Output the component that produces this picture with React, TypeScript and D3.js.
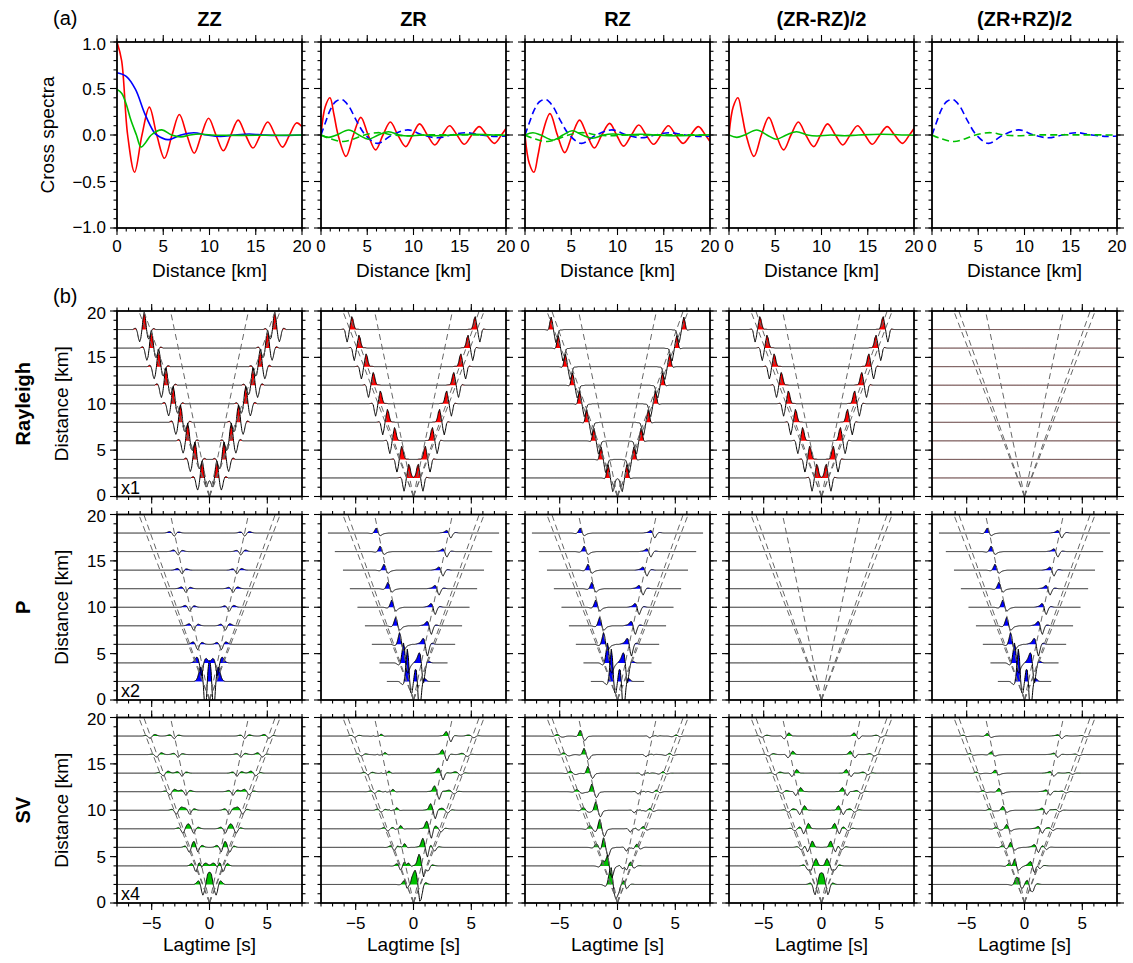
import React, { useEffect, useRef } from 'react';
import * as d3 from 'd3';

const WIDTH = 1133;
const HEIGHT = 963;
const FONT = '"Liberation Sans", Arial, Helvetica, sans-serif';

const COLUMNS = ['ZZ', 'ZR', 'RZ', '(ZR-RZ)/2', '(ZR+RZ)/2'];
const ROWS = ['Rayleigh', 'P', 'SV'];
const ROW_GAIN = ['x1', 'x2', 'x4'];
const RED = '#ff0000';
const BLUE = '#0000ff';
const GREEN = '#00c000';
const ROW_COLORS = [RED, BLUE, GREEN];
const FLAT_STROKE = ['#3a0c0c', '#000000', '#000000'];

const DISTANCES = [2, 4, 6, 8, 10, 12, 14, 16, 18];
// dashed guide lines (km/s): Rayleigh, S, P
const LINE_VELOCITIES = [3.27, 3.52, 5.93];
// P-row cross-component traces are only drawn inside |lag| <= this (s), per distance
const P_WINDOW = [2.3, 2.95, 3.6, 4.2, 4.85, 5.5, 6.1, 6.8, 7.4];

// ---- (a) cross spectra, [distance km, value] read at extrema / zero crossings
const SPEC_RAY_ZZ = [[0, 1], [0.5, 0.8], [1.15, 0], [1.9, -0.4], [2.7, 0], [3.5, 0.3], [4.3, 0], [5.13, -0.25], [5.95, 0], [6.74, 0.22], [7.55, 0], [8.35, -0.196], [9.12, 0], [9.9, 0.18], [10.7, 0], [11.5, -0.17], [12.3, 0], [13.1, 0.16], [13.9, 0], [14.7, -0.14], [15.5, 0], [16.3, 0.14], [17.1, 0], [17.9, -0.13], [18.65, 0], [19.4, 0.13], [20, 0.09]];
const SPEC_P_ZZ = [[0, 0.67], [1, 0.63], [2, 0.49], [3, 0.23], [4, 0.03], [4.3, 0], [5.5, -0.05], [6.9, 0], [8.3, 0.025], [9.7, 0], [11.2, -0.015], [12.7, 0], [14.3, 0.01], [15.8, 0], [17.3, -0.006], [20, 0]];
const SPEC_SV_ZZ = [[0, 0.49], [0.5, 0.45], [1, 0.33], [1.5, 0.16], [2.1, 0], [2.6, -0.13], [3.1, -0.08], [3.7, 0], [4.85, 0.055], [5.9, 0], [6.9, -0.02], [7.9, 0], [9, 0.01], [10.2, 0], [20, 0]];
const SPEC_RAY_ZR = [[0, 0], [0.45, 0.3], [0.97, 0.4], [1.4, 0.22], [1.85, 0], [2.7, -0.23], [3.5, 0], [4.3, 0.19], [5.1, 0], [5.9, -0.16], [6.7, 0], [7.5, 0.14], [8.3, 0], [9.15, -0.125], [9.9, 0], [10.66, 0.12], [11.5, 0], [12.3, -0.107], [13.1, 0], [13.9, 0.1], [14.7, 0], [15.5, -0.1], [16.3, 0], [17.1, 0.09], [17.9, 0], [18.75, -0.09], [19.5, 0], [20, 0.07]];
const SPEC_P_ZR = [[0, 0], [0.5, 0.14], [1, 0.27], [1.6, 0.36], [2.3, 0.38], [3, 0.31], [3.8, 0.16], [4.8, 0], [6.1, -0.09], [7.7, 0], [9.4, 0.055], [11, 0], [12.6, -0.03], [14.1, 0], [15.6, 0.025], [17.3, 0], [18.9, -0.015], [20, -0.01]];
const SPEC_SV_ZR_EVEN = [[0, 0], [0.85, -0.025], [1.7, 0], [3, 0.054], [4.1, 0], [5.1, -0.045], [6.2, 0], [7.3, 0.035], [8.5, 0], [9.5, -0.01], [11, 0], [12.5, -0.008], [14, 0], [16.5, 0.008], [19, 0], [20, -0.002]];
const SPEC_SV_ZR_ODD = [[0, 0], [1, -0.04], [2.4, -0.07], [3.6, -0.04], [4.7, 0], [6.3, 0.025], [7.8, 0], [9.3, -0.008], [11, 0], [20, 0]];

const SPECTRA_PANELS = [
  [{ data: SPEC_RAY_ZZ, sign: 1, color: RED }, { data: SPEC_P_ZZ, sign: 1, color: BLUE }, { data: SPEC_SV_ZZ, sign: 1, color: GREEN }],
  [{ data: SPEC_RAY_ZR, sign: 1, color: RED }, { data: SPEC_P_ZR, sign: 1, color: BLUE, dash: true }, { data: SPEC_SV_ZR_EVEN, sign: 1, color: GREEN }, { data: SPEC_SV_ZR_ODD, sign: 1, color: GREEN, dash: true }],
  [{ data: SPEC_RAY_ZR, sign: -1, color: RED }, { data: SPEC_P_ZR, sign: 1, color: BLUE, dash: true }, { data: SPEC_SV_ZR_EVEN, sign: -1, color: GREEN }, { data: SPEC_SV_ZR_ODD, sign: 1, color: GREEN, dash: true }],
  [{ data: SPEC_RAY_ZR, sign: 1, color: RED }, { data: SPEC_SV_ZR_EVEN, sign: 1, color: GREEN }],
  [{ data: SPEC_P_ZR, sign: 1, color: BLUE, dash: true }, { data: SPEC_SV_ZR_ODD, sign: 1, color: GREEN, dash: true }],
];

// ---- (b) waveforms: causal-side wavelets sampled every 0.1 s from -1 to 1 s around the arrival
const TAU = d3.range(21).map((i) => -1 + i * 0.1);
const W_RAY_ZZ = [0, 0.04, 0.06, 0.02, -0.12, -0.35, -0.55, -0.45, 0, 0.65, 1, 0.65, 0, -0.5, -0.7, -0.5, -0.15, 0.05, 0.08, 0.04, 0];
const W_RAY_ZR = [0, 0, 0.02, 0.03, 0.03, 0.08, 0.35, 0.8, 1, 0.55, 0, -0.6, -0.97, -0.6, -0.1, 0.05, 0.03, 0.01, 0, 0, 0];
const W_P_ZZ = [0, 0, 0.02, 0.05, 0.12, 0.25, 0.35, 0.3, 0.05, -0.5, -1, -0.7, -0.1, 0.3, 0.45, 0.4, 0.25, 0.12, 0.05, 0.02, 0];
const W_P_ZR = [0, 0, 0.02, 0.05, 0.08, 0.12, 0.2, 0.35, 0.5, 0.45, 0, -0.7, -1, -0.6, -0.2, 0.05, 0.1, 0.08, 0.04, 0.01, 0];
const W_SV_ZZ = [0, 0, 0.02, 0.08, 0.2, 0.35, 0.45, 0.35, 0.1, -0.3, -0.6, -0.5, -0.2, 0.05, 0.15, 0.12, 0.06, 0.02, 0, 0, 0];

// amplitudes per trace (km on the plot, after the row gain), distances 2..18
const AMP_RAY_ZZ = [1.9, 1.9, 1.9, 1.9, 1.9, 1.9, 1.9, 1.9, 1.9];
const AMP_RAY_ZR = [1.5, 1.45, 1.45, 1.4, 1.4, 1.4, 1.4, 1.4, 1.4];
const AMP_P_ZZ = [3.5, 1.4, 0.6, 0.5, 0.45, 0.42, 0.4, 0.38, 0.35];
const AMP_P_ZR = [3.5, 2.2, 1.3, 0.95, 0.8, 0.7, 0.65, 0.6, 0.55];
const AMP_SV_ZZ_S = [2.0, 1.6, 1.0, 0.8, 0.7, 0.6, 0.5, 0.45, 0.4];
const AMP_SV_ZZ_P = [0.5, 0.8, 0.6, 0.5, 0.45, 0.4, 0.35, 0.3, 0.3];
const AMP_SV_EVEN_P = [0.6, 0.7, 0.7, 0.6, 0.5, 0.45, 0.4, 0.38, 0.35];
const AMP_SV_EVEN_S = [1.0, 0.8, 0.5, 0.4, 0.35, 0.3, 0.28, 0.25, 0.22];
const AMP_SV_ODD_P = [0.8, 0.9, 0.6, 0.5, 0.45, 0.4, 0.35, 0.32, 0.3];
const AMP_SV_ODD_S = [0.6, 0.4, 0.25, 0.2, 0.18, 0.15, 0.13, 0.12, 0.1];

// zz: ZZ part, even/odd: parts of ZR (RZ = -even + odd)
const WAVE_PARTS = [
  {
    zz: [{ vel: 3.19, shape: W_RAY_ZZ, amp: AMP_RAY_ZZ }],
    even: [{ vel: 3.25, shape: W_RAY_ZR, amp: AMP_RAY_ZR }],
    odd: [],
  },
  {
    zz: [{ vel: 5.93, shape: W_P_ZZ, amp: AMP_P_ZZ }],
    even: [],
    odd: [{ vel: 5.93, shape: W_P_ZR, amp: AMP_P_ZR }],
    window: P_WINDOW,
  },
  {
    zz: [{ vel: 3.52, shape: W_SV_ZZ, amp: AMP_SV_ZZ_S }, { vel: 5.93, shape: W_P_ZZ, amp: AMP_SV_ZZ_P }],
    even: [{ vel: 5.93, shape: W_RAY_ZR, amp: AMP_SV_EVEN_P }, { vel: 3.52, shape: W_SV_ZZ, amp: AMP_SV_EVEN_S }],
    odd: [{ vel: 5.93, shape: W_P_ZR, amp: AMP_SV_ODD_P }, { vel: 3.52, shape: W_P_ZR, amp: AMP_SV_ODD_S }],
  },
];
const EVEN_WEIGHT = [0, 1, -1, 1, 0];
const ODD_WEIGHT = [0, 1, 1, 0, 1];

// layout
const COL_X = [117, 321, 525, 729, 932];
const PANEL_W = 185;
const TOP_Y = 42;
const TOP_H = 186;
const ROW_Y = [311, 514.5, 717.5];
const ROW_H = 185.5;
const TICK_FONT = 17;
const LABEL_FONT = 19;

function sumSide(arrivals, di, t, sym) {
  let v = 0;
  arrivals.forEach((a) => {
    const f = d3.scaleLinear().domain(TAU).range(a.shape).clamp(true);
    const T = DISTANCES[di] / a.vel;
    v += a.amp[di] * (f(t - T) + sym * f(-t - T));
  });
  return v;
}

function drawFrame(g, w, h, x, y, ax) {
  const major = 7;
  const minor = 3.5;
  const tick = (x1, y1, x2, y2) =>
    g.append('line').attr('x1', x1).attr('y1', y1).attr('x2', x2).attr('y2', y2)
      .attr('stroke', '#000').attr('stroke-width', 1.1);
  ax.xMinor.forEach((v) => { const p = x(v); tick(p, h, p, h + minor); tick(p, 0, p, -minor); });
  ax.xMajor.forEach((v) => { const p = x(v); tick(p, h, p, h + major); tick(p, 0, p, -major); });
  ax.yMinor.forEach((v) => { const p = y(v); tick(0, p, -minor, p); tick(w, p, w + minor, p); });
  ax.yMajor.forEach((v) => { const p = y(v); tick(0, p, -major, p); tick(w, p, w + major, p); });
  g.append('rect').attr('width', w).attr('height', h).attr('fill', 'none')
    .attr('stroke', '#000').attr('stroke-width', 1.8);
  if (ax.xLabels) {
    ax.xMajor.forEach((v) => {
      g.append('text').attr('x', x(v)).attr('y', h + ax.xLabelDy).attr('text-anchor', 'middle')
        .attr('font-size', TICK_FONT).text(ax.xFormat(v));
    });
  }
  if (ax.yLabels) {
    const [lo, hi] = y.domain();
    ax.yMajor.forEach((v) => {
      // labels on the frame ends are nudged inwards so stacked panels do not collide
      const dy = v === lo ? 4.5 : v === hi ? 7.5 : 6;
      g.append('text').attr('x', -11).attr('y', y(v) + dy).attr('text-anchor', 'end')
        .attr('font-size', TICK_FONT).text(ax.yFormat(v));
    });
  }
}

function draw(svg) {
  svg.append('rect').attr('width', WIDTH).attr('height', HEIGHT).attr('fill', '#fff');
  const root = svg.append('g').attr('font-family', FONT).attr('fill', '#000');

  // ---------- (a)
  const xa = d3.scaleLinear().domain([0, 20]).range([0, PANEL_W]);
  const ya = d3.scaleLinear().domain([-1, 1]).range([TOP_H, 0]);
  const fmtA = d3.format('.1f');
  COLUMNS.forEach((name, ci) => {
    const g = root.append('g').attr('transform', `translate(${COL_X[ci]},${TOP_Y})`);
    const clipId = `clip-a-${ci}`;
    g.append('clipPath').attr('id', clipId).append('rect').attr('width', PANEL_W).attr('height', TOP_H);
    const plot = g.append('g').attr('clip-path', `url(#${clipId})`);
    SPECTRA_PANELS[ci].forEach((s) => {
      const line = d3.line().x((d) => xa(d[0])).y((d) => ya(s.sign * d[1]))
        .curve(d3.curveCatmullRom.alpha(0.5));
      plot.append('path').attr('d', line(s.data)).attr('fill', 'none').attr('stroke', s.color)
        .attr('stroke-width', 1.6).attr('stroke-dasharray', s.dash ? '7,4' : null);
    });
    drawFrame(g, PANEL_W, TOP_H, xa, ya, {
      xMajor: [0, 5, 10, 15, 20], xMinor: d3.range(0, 21, 1),
      yMajor: [-1, -0.5, 0, 0.5, 1], yMinor: d3.range(-10, 11).map((i) => i / 10),
      xLabels: true, xLabelDy: 24, xFormat: (v) => String(v),
      yLabels: ci === 0, yFormat: fmtA,
    });
    root.append('text').attr('x', COL_X[ci] + PANEL_W / 2).attr('y', 26).attr('text-anchor', 'middle')
      .attr('font-size', 20).attr('font-weight', 'bold').text(name);
    root.append('text').attr('x', COL_X[ci] + PANEL_W / 2).attr('y', 277).attr('text-anchor', 'middle')
      .attr('font-size', LABEL_FONT).text('Distance [km]');
  });
  root.append('text').attr('x', 53).attr('y', 25).attr('font-size', 20).text('(a)');
  root.append('text').attr('transform', `translate(54,${TOP_Y + TOP_H / 2}) rotate(-90)`)
    .attr('text-anchor', 'middle').attr('font-size', LABEL_FONT).text('Cross spectra');

  // ---------- (b)
  const xb = d3.scaleLinear().domain([-8, 8]).range([0, PANEL_W]);
  const yb = d3.scaleLinear().domain([0, 20]).range([ROW_H, 0]);
  const fmtB = d3.format('d');
  const tGrid = d3.range(-8, 8.0001, 0.02);
  root.append('text').attr('x', 53).attr('y', 303).attr('font-size', 20).text('(b)');

  ROWS.forEach((rowName, ri) => {
    const parts = WAVE_PARTS[ri];
    COLUMNS.forEach((colName, ci) => {
      const g = root.append('g').attr('transform', `translate(${COL_X[ci]},${ROW_Y[ri]})`);
      const clipId = `clip-b-${ri}-${ci}`;
      g.append('clipPath').attr('id', clipId).append('rect').attr('width', PANEL_W).attr('height', ROW_H);
      const plot = g.append('g').attr('clip-path', `url(#${clipId})`);
      const flat = ci === 0 ? parts.zz.length === 0
        : (EVEN_WEIGHT[ci] === 0 || parts.even.length === 0) && (ODD_WEIGHT[ci] === 0 || parts.odd.length === 0);
      const windowed = parts.window && ci > 0 && !flat;

      DISTANCES.forEach((d, di) => {
        const lagMax = windowed ? parts.window[di] : 8;
        const pts = tGrid.filter((t) => Math.abs(t) <= lagMax + 1e-9).map((t) => {
          const v = ci === 0 ? sumSide(parts.zz, di, t, 1)
            : EVEN_WEIGHT[ci] * sumSide(parts.even, di, t, 1) + ODD_WEIGHT[ci] * sumSide(parts.odd, di, t, -1);
          return [t, v];
        });
        const area = d3.area().x((p) => xb(p[0])).y0(yb(d)).y1((p) => yb(d + Math.max(p[1], 0)));
        const line = d3.line().x((p) => xb(p[0])).y((p) => yb(d + p[1]));
        if (!flat) plot.append('path').attr('d', area(pts)).attr('fill', ROW_COLORS[ri]);
        plot.append('path').attr('d', line(pts)).attr('fill', 'none')
          .attr('stroke', flat ? FLAT_STROKE[ri] : '#000').attr('stroke-width', 1);
      });

      LINE_VELOCITIES.forEach((v) => {
        [-1, 1].forEach((s) => {
          plot.append('line').attr('x1', xb(0)).attr('y1', yb(0)).attr('x2', xb((s * 20) / v)).attr('y2', yb(20))
            .attr('stroke', '#666').attr('stroke-width', 1).attr('stroke-dasharray', '6,4');
        });
      });

      drawFrame(g, PANEL_W, ROW_H, xb, yb, {
        xMajor: [-5, 0, 5], xMinor: d3.range(-8, 9, 1),
        yMajor: [0, 5, 10, 15, 20], yMinor: d3.range(0, 21, 1),
        xLabels: ri === ROWS.length - 1, xLabelDy: 26, xFormat: fmtB,
        yLabels: ci === 0, yFormat: fmtB,
      });

      if (ci === 0) {
        g.append('text').attr('x', 4).attr('y', ROW_H - 3).attr('font-size', 18).text(ROW_GAIN[ri]);
      }
      if (ri === ROWS.length - 1) {
        root.append('text').attr('x', COL_X[ci] + PANEL_W / 2).attr('y', 951).attr('text-anchor', 'middle')
          .attr('font-size', LABEL_FONT).text('Lagtime [s]');
      }
    });
    const cy = ROW_Y[ri] + ROW_H / 2;
    root.append('text').attr('transform', `translate(68,${cy}) rotate(-90)`)
      .attr('text-anchor', 'middle').attr('font-size', LABEL_FONT).text('Distance [km]');
    root.append('text').attr('transform', `translate(30,${cy}) rotate(-90)`)
      .attr('text-anchor', 'middle').attr('font-size', 20).attr('font-weight', 'bold').text(rowName);
  });
}

export default function App() {
  const ref = useRef(null);
  useEffect(() => {
    const svg = d3.select(ref.current);
    svg.selectAll('*').remove();
    draw(svg);
  }, []);
  return (
    <svg ref={ref} width={WIDTH} height={HEIGHT}
      style={{ position: 'absolute', left: 0, top: 0, display: 'block' }} />
  );
}
